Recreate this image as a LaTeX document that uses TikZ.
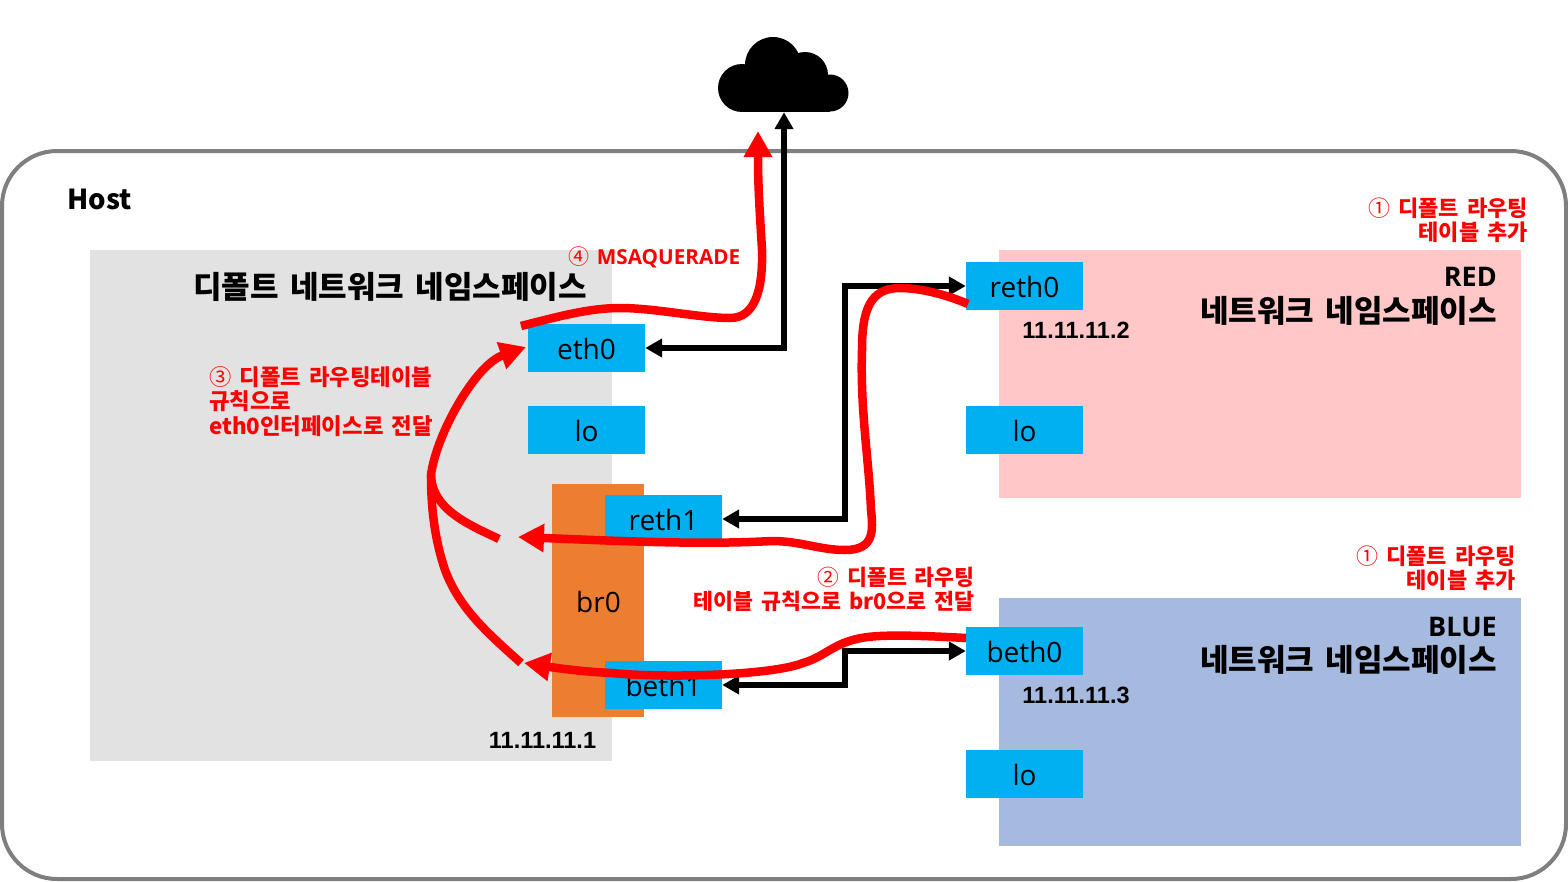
\documentclass[tikz,border=0pt]{standalone}
\usepackage{fontspec}
\setmainfont{Open Sans}
\newfontfamily\kr[WordSpace=1.6]{Noto Sans CJK KR}
\newfontfamily\ipfont{Liberation Sans}
\usetikzlibrary{arrows.meta}
\definecolor{hostgray}{HTML}{7F7F7F}
\definecolor{nsgray}{HTML}{E2E2E2}
\definecolor{nsred}{HTML}{FFC7C7}
\definecolor{nsblue}{HTML}{A6BAE0}
\definecolor{ifblue}{HTML}{00B0F0}
\definecolor{brorange}{HTML}{ED7D31}
\tikzset{
  area/.style={draw=none,inner sep=0pt,anchor=north west},
  iface/.style={fill=ifblue,draw=none,inner sep=0pt,minimum width=117pt,minimum height=48pt,font=\fontsize{28}{32}\selectfont},
  title/.style={inner sep=0pt,font=\kr\bfseries\fontsize{31}{34}\selectfont,align=right},
  ipaddr/.style={inner sep=0pt,font=\ipfont\bfseries\fontsize{23.5}{26}\selectfont},
  note/.style={inner sep=0pt,text=red,font=\kr\bfseries\fontsize{22}{24}\selectfont},
  wire/.style={line width=5.5pt,black,{Triangle[length=17pt,width=18pt]}-{Triangle[length=17pt,width=18pt]}},
  flow/.style={line width=8.5pt,red,-{Triangle[length=26pt,width=27pt]}},
  flowplain/.style={line width=8.5pt,red},
}
\newcommand{\cn}[1]{{\mdseries #1}}
\newcommand{\lb}[1]{\raisebox{0pt}[23.5pt][0pt]{#1}}
\newcommand{\ltt}[1]{{\normalfont\bfseries\fontsize{27}{34}\selectfont #1}}
\begin{document}
\begin{tikzpicture}[x=1pt,y=-1pt]
\useasboundingbox (0,0) rectangle (1568,881);
\fill[white] (0,0) rectangle (1568,881);
% host
\node[area,draw=hostgray,line width=4pt,rounded corners=55pt,minimum width=1564pt,minimum height=728pt] (host) at (0,149) {};
\node[inner sep=0pt,anchor=west,font=\kr\bfseries\fontsize{27.5}{32}\selectfont] (hostlabel) at (67.5,199) {Host};
% namespaces
\node[area,fill=nsgray,minimum width=522pt,minimum height=511pt] (defaultns) at (90,250) {};
\node[area,fill=nsred,minimum width=522pt,minimum height=248pt] (redns) at (999,250) {};
\node[area,fill=nsblue,minimum width=522pt,minimum height=248pt] (bluens) at (999,598) {};
% bridge
\node[area,fill=brorange,minimum width=92pt,minimum height=233pt] (brbox) at (552,484) {};
\node[inner sep=0pt,font=\fontsize{28}{32}\selectfont] (br) at (598.5,602) {br0};
% interfaces
\node[iface] (eth0) at (586.5,348) {\lb{eth0}};
\node[iface] (lo1) at (586.5,430) {\lb{lo}};
\node[iface] (reth1) at (663.5,519) {\lb{reth1}};
\node[iface] (beth1) at (663.5,685) {\lb{beth1}};
\node[iface] (reth0) at (1024.5,286) {\lb{reth0}};
\node[iface] (lo2) at (1024.5,430) {\lb{lo}};
\node[iface] (beth0) at (1024.5,651) {\lb{beth0}};
\node[iface] (lo3) at (1024.5,774) {\lb{lo}};
% titles
\node[title] (deftitle) at (390,287) {디폴트 네트워크 네임스페이스};
\node[title,anchor=north east] (redtitle) at (1497,267) {\ltt{RED}\\[2pt]네트워크 네임스페이스};
\node[title,anchor=north east] (bluetitle) at (1497,617) {\ltt{BLUE}\\[1pt]네트워크 네임스페이스};
% addresses
\node[ipaddr] (ipdef) at (542.5,740) {11.11.11.1};
\node[ipaddr] (ipred) at (1076,330) {11.11.11.2};
\node[ipaddr] (ipblue) at (1076,695) {11.11.11.3};
% notes
\node[note,anchor=north east,align=right] (n1a) at (1528,198) {\cn{①} 디폴트 라우팅\\테이블 추가};
\node[note,anchor=north east,align=right] (n1b) at (1516,546) {\cn{①} 디폴트 라우팅\\테이블 추가};
\node[note,anchor=north east,align=right,font=\kr\bfseries\fontsize{21.7}{24}\selectfont] (n2) at (975,567) {\cn{②} 디폴트 라우팅\\테이블 규칙으로 br0으로 전달};
\node[note,anchor=north west,align=left,font=\kr\bfseries\fontsize{22.3}{24.5}\selectfont] (n3) at (209,366) {\cn{③} 디폴트 라우팅테이블\\규칙으로\\eth0인터페이스로 전달};
\node[note,anchor=west,font=\kr\bfseries\fontsize{21}{24}\selectfont] (n4) at (568,257.5) {\cn{④} {\normalfont\bfseries\fontsize{20.7}{24}\selectfont MSAQUERADE}};
% cloud
\fill[black] (742,88) circle (24);
\fill[black] (773,65) circle (28);
\fill[black] (805,75) circle (23);
\fill[black] (830,93) circle (18.5);
\fill[black] (742,75) rectangle (830,111.5);
\node[inner sep=0pt,minimum size=0pt] (cloud) at (784,112) {};
% black connectors
\draw[wire] (cloud) |- (eth0.east);
\coordinate (busr) at (845,400);
\draw[wire] (reth1.east) -| (busr) |- (reth0.west);
\coordinate (busb) at (845,668);
\draw[wire] (beth1.east) -| (busb) |- (beth0.west);
% red flows
\coordinate (eth0out) at (521,326);
\coordinate (cloudin) at (758,131);
\draw[flow] (eth0out) .. controls (560,316) and (590,308) .. (620,308)
  .. controls (655,308) and (700,318) .. (730,318)
  .. controls (755,318) and (763,290) .. (762,250)
  .. controls (760,215) and (758,190) .. (cloudin);
\coordinate (reth0out) at (968,304);
\coordinate (br0in) at (518,537);
\draw[flow] (reth0out) .. controls (940,292) and (915,288) .. (900,288)
  .. controls (870,288) and (862,310) .. (862,350)
  .. controls (860,410) and (869,460) .. (871,510)
  .. controls (873,530) and (875,550) .. (845,550)
  .. controls (820,550) and (800,541) .. (772,541)
  .. controls (700,545) and (620,541) .. (br0in);
\coordinate (beth0out) at (966,638);
\coordinate (br0inb) at (524,663);
\draw[flow] (beth0out) .. controls (930,636) and (900,635) .. (880,636)
  .. controls (835,638) and (830,655) .. (803,663)
  .. controls (770,676) and (660,678) .. (612,673)
  .. controls (590,672) and (570,670) .. (br0inb);
\coordinate (joint) at (431,475);
\coordinate (gapr) at (499,539);
\coordinate (gapb) at (521,663);
\coordinate (eth0in) at (526,347);
\draw[flow] (gapr) .. controls (470,525) and (432,510) .. (joint)
  .. controls (436,435) and (475,365) .. (eth0in);
\draw[flowplain] (gapb) .. controls (490,635) and (460,610) .. (445,570)
  .. controls (435,540) and (431,510) .. (joint);
\end{tikzpicture}
\end{document}
